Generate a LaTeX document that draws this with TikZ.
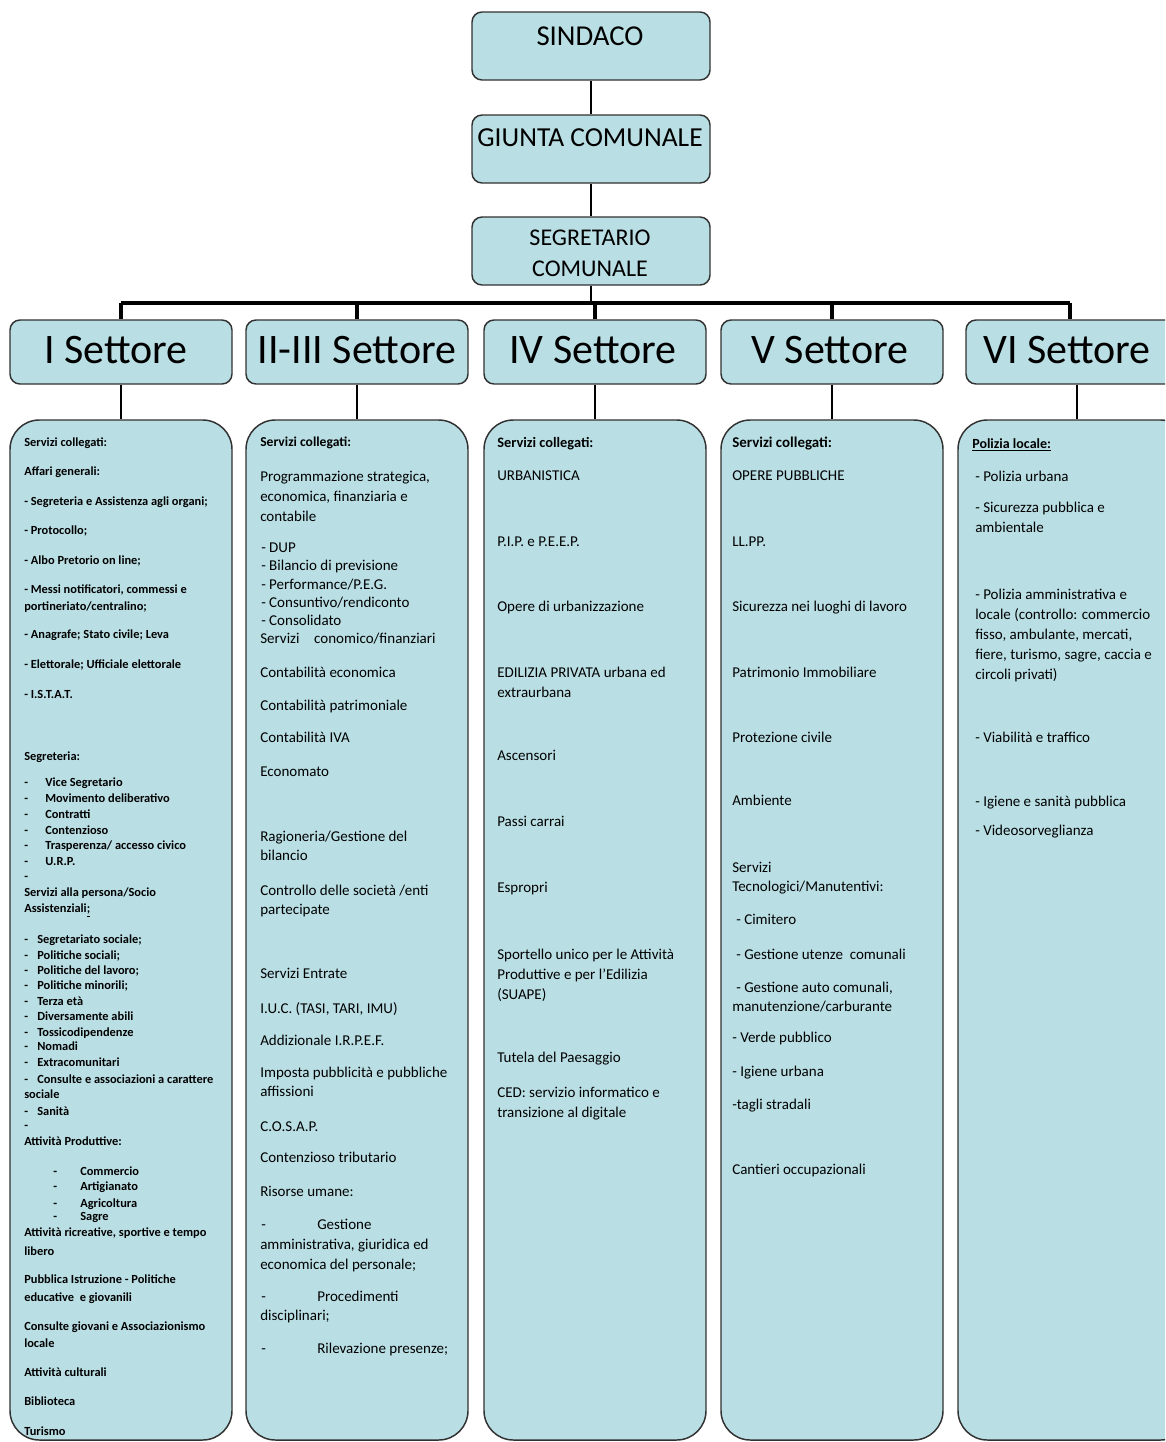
\documentclass[tikz,border=0pt]{standalone}
\usepackage{fontspec}
\setmainfont{Carlito}
\definecolor{boxfill}{RGB}{185,223,229}
\definecolor{boxline}{RGB}{50,50,50}
\newcommand\dd[1]{\makebox[#1pt][l]{-}}
\begin{document}
\begin{tikzpicture}[x=0.75pt,y=-0.75pt,
  orgbox/.style={draw=boxline, fill=boxfill, line width=1.1pt, rounded corners=7.5pt, inner sep=0pt},
  detbox/.style={draw=boxline, fill=boxfill, line width=1.1pt, rounded corners=22pt, inner sep=0pt},
  conn/.style={line width=1.9pt, draw=black},
  busline/.style={line width=2.5pt, draw=black},
  smalltxt/.style={anchor=base west, inner sep=0pt, font=\fontsize{9.3}{10}\selectfont\bfseries},
  txt/.style={anchor=base west, inner sep=0pt, font=\fontsize{11.25}{13}\selectfont},
  headtxt/.style={anchor=base west, inner sep=0pt, font=\fontsize{#1}{12}\selectfont\bfseries},
  settxt/.style={anchor=base, inner sep=0pt, font=\fontsize{31.5}{34}\selectfont},
  toptxt/.style={anchor=base, inner sep=0pt, font=\fontsize{#1}{24}\selectfont}]
\useasboundingbox (0,0) rectangle (1165,1442);
\clip (0,0) rectangle (1165,1442);
\fill[white] (0,0) rectangle (1165,1442);

% top boxes
\node[orgbox, minimum width=178.5pt, minimum height=51pt] (sindaco) at (591,46) {};
\node[orgbox, minimum width=178.5pt, minimum height=51pt] (giunta) at (591,149) {};
\node[orgbox, minimum width=178.5pt, minimum height=51pt] (segr) at (591,251) {};
\node[toptxt=21.6] (sindacoT) at (590,45) {SINDACO};
\node[toptxt=20.6] (giuntaT) at (590,146) {GIUNTA COMUNALE};
\node[toptxt=18] (segrT1) at (590,245) {SEGRETARIO};
\node[toptxt=18] (segrT2) at (590,276) {COMUNALE};
\draw[conn] (sindaco.south) -- (giunta.north);
\draw[conn] (giunta.south) -- (segr.north);

% bus
\coordinate (busL) at (121,303);
\coordinate (busR) at (1070,303);
\draw[busline] (busL) -- (busR);
\draw[conn] (segr.south) -- (segr.south |- busL);

% header boxes
\node[orgbox, minimum width=166.5pt, minimum height=48pt] (h1) at (121,352) {};
\node[orgbox, minimum width=166.5pt, minimum height=48pt] (h2) at (357,352) {};
\node[orgbox, minimum width=166.5pt, minimum height=48pt] (h4) at (595,352) {};
\node[orgbox, minimum width=166.5pt, minimum height=48pt] (h5) at (832,352) {};
\node[orgbox, minimum width=166.5pt, minimum height=48pt] (h6) at (1077,352) {};
\node[settxt] (h1T) at (116,363) {I Settore};
\node[settxt] (h2T) at (357,363) {II-III Settore};
\node[settxt] (h4T) at (593,363) {IV Settore};
\node[settxt] (h5T) at (830,363) {V Settore};
\node[settxt] (h6T) at (1067,363) {VI Settore};
\draw[busline] (busL) -- (h1.north);
\draw[busline] (h2.north |- busL) -- (h2.north);
\draw[busline] (h4.north |- busL) -- (h4.north);
\draw[busline] (h5.north |- busL) -- (h5.north);
\draw[busline] (busR) -- (busR |- h6.north);

% detail boxes
\node[detbox, minimum width=166.5pt, minimum height=765pt] (d1) at (121,930) {};
\node[detbox, minimum width=166.5pt, minimum height=765pt] (d2) at (357,930) {};
\node[detbox, minimum width=166.5pt, minimum height=765pt] (d4) at (595,930) {};
\node[detbox, minimum width=166.5pt, minimum height=765pt] (d5) at (832,930) {};
\node[detbox, minimum width=174pt, minimum height=765pt] (d6) at (1074,930) {};
\draw[conn] (h1.south) -- (d1.north);
\draw[conn] (h2.south) -- (d2.north);
\draw[conn] (h4.south) -- (d4.north);
\draw[conn] (h5.south) -- (d5.north);
\draw[conn] (h6.south) -- (h6.south |- d6.north);

% column I
\foreach \x/\y/\t [count=\i] in {
24/443/{Servizi collegati:},
24/472/{Affari generali:},
24/502/{- Segreteria e Assistenza agli organi;},
24/531/{- Protocollo;},
24/561/{- Albo Pretorio on line;},
24/590/{- Messi notificatori, commessi e},
24/607/{portineriato/centralino;},
24/635/{- Anagrafe; Stato civile; Leva},
24/665/{- Elettorale; Ufficiale elettorale},
24/695/{- I.S.T.A.T.},
24/757/{Segreteria:},
24/783/{\dd{15.75}Vice Segretario},
24/799/{\dd{15.75}Movimento deliberativo},
24/815/{\dd{15.75}Contratti},
24/831/{\dd{15.75}Contenzioso},
24/846/{\dd{15.75}Trasperenza/ accesso civico},
24/862/{\dd{15.75}U.R.P.},
24/877/{-},
24/893/{Servizi alla persona/Socio},
24/909/{Assistenziali\underline{;}},
24/940/{\dd{9.75}Segretariato sociale;},
24/956/{\dd{9.75}Politiche sociali;},
24/971/{\dd{9.75}Politiche del lavoro;},
24/986/{\dd{9.75}Politiche minorili;},
24/1002/{\dd{9.75}Terza età},
24/1017/{\dd{9.75}Diversamente abili},
24/1033/{\dd{9.75}Tossicodipendenze},
24/1047/{\dd{9.75}Nomadi},
24/1063/{\dd{9.75}Extracomunitari},
24/1080/{\dd{9.75}Consulte e associazioni a carattere},
24/1095/{sociale},
24/1112/{\dd{9.75}Sanità},
24/1126/{-},
24/1142/{Attività Produttive:},
53/1172/{\dd{20.25}Commercio},
53/1187/{\dd{20.25}Artigianato},
53/1204/{\dd{20.25}Agricoltura},
53/1217/{\dd{20.25}Sagre},
24/1233/{Attività ricreative, sportive e tempo},
24/1252/{libero},
24/1280/{Pubblica Istruzione - Politiche},
24/1298/{educative\ \ e giovanili},
24/1327/{Consulte giovani e Associazionismo},
24/1344/{locale},
24/1373/{Attività culturali},
24/1402/{Biblioteca},
24/1432/{Turismo}}
  \node[smalltxt] (a\i) at (\x,{\y+3.5}) {\t};

% column II-III
\node[headtxt=10.2] (b0) at (260,446) {Servizi collegati:};
\foreach \x/\y/\t [count=\i] in {
260/477/{Programmazione strategica,},
260/497/{economica, finanziaria e},
260/517/{contabile},
261/548/{- DUP},
261/566/{- Bilancio di previsione},
261/585/{- Performance/P.E.G.},
261/603/{- Consuntivo/rendiconto},
261/621/{- Consolidato},
260/639/{Servizi\hspace{11pt}conomico/finanziari},
260/673/{Contabilità economica},
260/706/{Contabilità patrimoniale},
260/738/{Contabilità IVA},
260/772/{Economato},
260/837/{Ragioneria/Gestione del},
260/856/{bilancio},
260/891/{Controllo delle società /enti},
260/910/{partecipate},
260/974/{Servizi Entrate},
260/1009/{I.U.C. (TASI, TARI, IMU)},
260/1041/{Addizionale I.R.P.E.F.},
260/1073/{Imposta pubblicità e pubbliche},
260/1092/{affissioni},
260/1127/{C.O.S.A.P.},
260/1158/{Contenzioso tributario},
260/1192/{Risorse umane:},
261/1225/{\dd{42}Gestione},
260/1245/{amministrativa, giuridica ed},
260/1265/{economica del personale;},
261/1297/{\dd{42}Procedimenti},
260/1316/{disciplinari;},
261/1349/{\dd{42}Rilevazione presenze;}}
  \node[txt] (b\i) at (\x,{\y+4.5}) {\t};

% column IV
\node[headtxt=10.8] (c0) at (497,447) {Servizi collegati:};
\foreach \x/\y/\t [count=\i] in {
497/476/{URBANISTICA},
497/542/{P.I.P. e P.E.E.P.},
497/607/{Opere di urbanizzazione},
497/673/{EDILIZIA PRIVATA urbana ed},
497/693/{extraurbana},
497/756/{Ascensori},
497/822/{Passi carrai},
497/888/{Espropri},
497/955/{Sportello unico per le Attività},
497/975/{Produttive e per l’Edilizia},
497/995/{(SUAPE)},
497/1058/{Tutela del Paesaggio},
497/1093/{CED: servizio informatico e},
497/1113/{transizione al digitale}}
  \node[txt] (c\i) at (\x,{\y+4.5}) {\t};

% column V
\node[headtxt=11.2] (e0) at (732,447) {Servizi collegati:};
\foreach \x/\y/\t [count=\i] in {
732/476/{OPERE PUBBLICHE},
732/542/{LL.PP.},
732/607/{Sicurezza nei luoghi di lavoro},
732/673/{Patrimonio Immobiliare},
732/738/{Protezione civile},
732/801/{Ambiente},
732/868/{Servizi},
732/887/{Tecnologici/Manutentivi:},
736/920/{- Cimitero},
736/955/{- Gestione utenze\ \ comunali},
736/988/{- Gestione auto comunali,},
732/1007/{manutenzione/carburante},
732/1038/{- Verde pubblico},
732/1072/{- Igiene urbana},
732/1105/{-tagli stradali},
732/1170/{Cantieri occupazionali}}
  \node[txt] (e\i) at (\x,{\y+4.5}) {\t};

% column VI
\node[headtxt=10.5] (f0) at (972,448) {\underline{Polizia locale:}};
\foreach \x/\y/\t [count=\i] in {
975/477/{- Polizia urbana},
975/508/{- Sicurezza pubblica e},
975/528/{ambientale},
975/595/{- Polizia amministrativa e},
975/615/{locale (controllo: commercio},
975/635/{fisso, ambulante, mercati,},
975/655/{fiere, turismo, sagre, caccia e},
975/675/{circoli privati)},
975/738/{- Viabilità e traffico},
975/802/{- Igiene e sanità pubblica},
975/831/{- Videosorveglianza}}
  \node[txt] (f\i) at (\x,{\y+4.5}) {\t};
\end{tikzpicture}
\end{document}
